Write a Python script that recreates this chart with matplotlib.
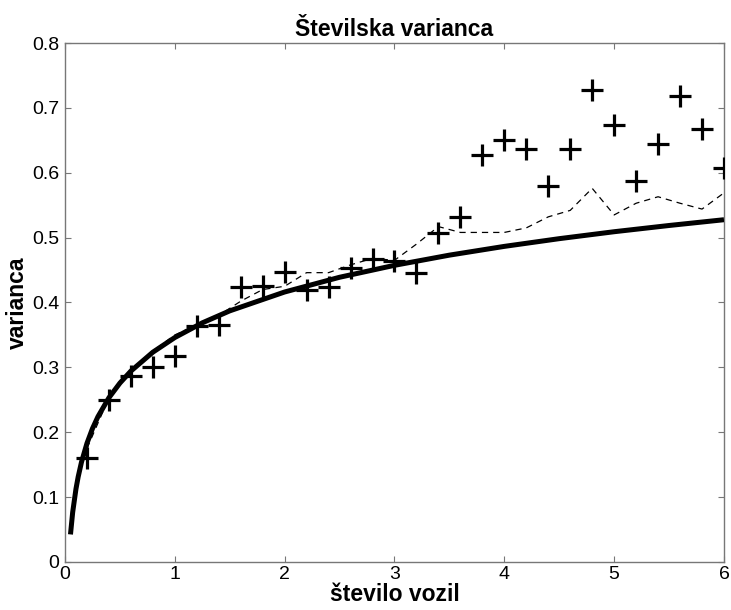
#!/usr/bin/env python3
# -*- coding: utf-8 -*-
import numpy as np
import matplotlib
matplotlib.use("Agg")
import matplotlib.pyplot as plt

# measured number variance (crosses)
L_meas = [0.2, 0.4, 0.6, 0.8, 1.0, 1.2, 1.4, 1.6, 1.8, 2.0,
          2.2, 2.4, 2.6, 2.8, 3.0, 3.2, 3.4, 3.6, 3.8, 4.0,
          4.2, 4.4, 4.6, 4.8, 5.0, 5.2, 5.4, 5.6, 5.8, 6.0]
var_meas = [0.161, 0.250, 0.287, 0.301, 0.317, 0.364, 0.365, 0.424, 0.425, 0.447,
            0.420, 0.424, 0.453, 0.467, 0.464, 0.445, 0.507, 0.532, 0.628, 0.651,
            0.637, 0.579, 0.637, 0.727, 0.673, 0.587, 0.645, 0.718, 0.668, 0.607]

# dashed curve
L_dash = L_meas
var_dash = [0.175, 0.253, 0.293, 0.325, 0.350, 0.365, 0.380, 0.402, 0.420, 0.425,
            0.446, 0.446, 0.458, 0.468, 0.465, 0.490, 0.517, 0.508, 0.508, 0.508,
            0.515, 0.532, 0.542, 0.576, 0.535, 0.553, 0.563, 0.553, 0.544, 0.569]

# solid curve
L_fit = [0.05, 0.07, 0.1, 0.12, 0.15, 0.2, 0.25, 0.3, 0.4, 0.5, 0.6, 0.8,
         1.0, 1.25, 1.5, 2.0, 2.5, 3.0, 3.5, 4.0, 4.5, 5.0, 5.5, 6.0]
var_fit = [0.0425, 0.0766, 0.1127, 0.1312, 0.1538, 0.1829, 0.2056, 0.2240,
           0.2532, 0.2758, 0.2943, 0.3234, 0.3460, 0.3686, 0.3871, 0.4162,
           0.4389, 0.4573, 0.4730, 0.4865, 0.4984, 0.5091, 0.5187, 0.5276]

plt.rcParams['font.family'] = ['Liberation Sans', 'DejaVu Sans']

fig = plt.figure(figsize=(7.31, 6.10), dpi=100)
ax = fig.add_axes([0.0889, 0.0787, 0.9015, 0.8508])

ax.plot(L_fit, var_fit, color='black', linewidth=3.6, solid_capstyle='butt', zorder=3)
ax.plot(L_dash, var_dash, color='black', linewidth=0.9, dashes=(5, 4), zorder=2)
ax.plot(L_meas, var_meas, linestyle='none', marker='+', color='black',
        markersize=16, markeredgewidth=2.3, zorder=4)

ax.set_xlim(0, 6)
ax.set_ylim(0, 0.8)
ax.set_xticks(np.arange(0, 7, 1))
ax.set_yticks(np.arange(0, 0.81, 0.1))
ax.set_yticklabels(['0', '0.1', '0.2', '0.3', '0.4', '0.5', '0.6', '0.7', '0.8'])

for s in ax.spines.values():
    s.set_color('#777777')
    s.set_linewidth(1.0)
ax.tick_params(direction='in', length=4, width=0.8, color='#777777',
               top=True, right=True, labelsize=14, pad=4)
ax.tick_params(axis='x', pad=3)

ax.set_title('Številska varianca', fontsize=16.5, fontweight='bold', pad=5)
ax.set_xlabel('število vozil', fontsize=16.5, fontweight='bold', labelpad=0)
ax.set_ylabel('varianca', fontsize=16.5, fontweight='bold', labelpad=2)

fig.savefig('out.png', dpi=100)
